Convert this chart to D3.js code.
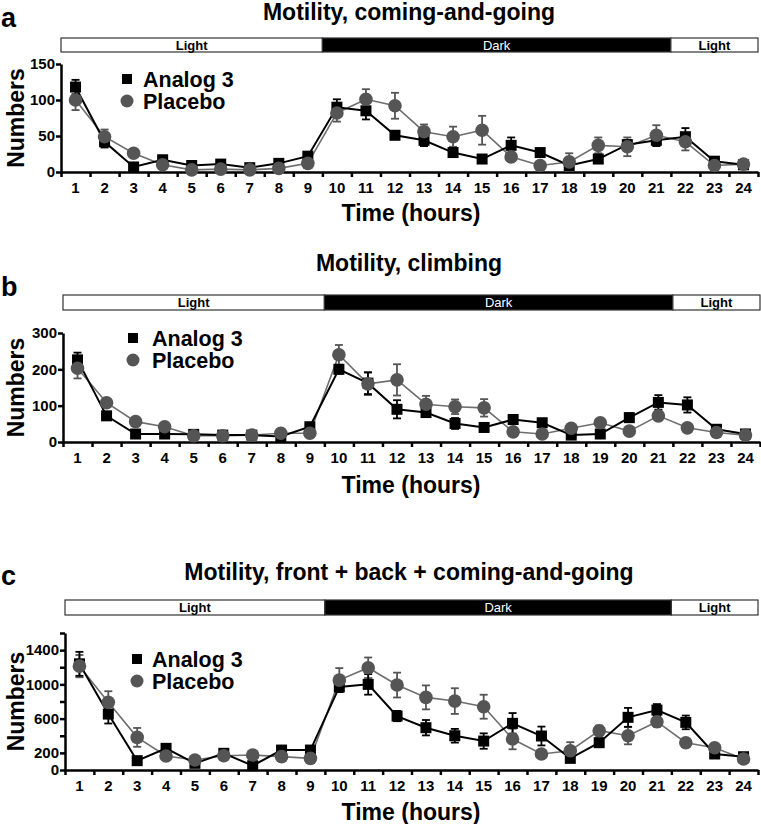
<!DOCTYPE html>
<html>
<head>
<meta charset="utf-8">
<script src="https://cdn.jsdelivr.net/npm/d3@7"></script>
<style>
  html, body { margin: 0; padding: 0; background: #fff; }
  svg { display: block; font-family: "Liberation Sans", Arial, Helvetica, sans-serif; }
</style>
</head>
<body>
<svg id="chart" width="761" height="824"></svg>
<script>
// ---------- data ----------
const hours = d3.range(1, 25);
const hourLabels = hours.map(String);

const titles = ["Motility, coming-and-going", "Motility, climbing", "Motility, front + back + coming-and-going"];
const panelLetters = ["a", "b", "c"];
const seriesNames = ["Analog 3", "Placebo"];
const phaseNames = ["Light", "Dark", "Light"];
const phaseBounds = [0.5, 9.5, 21.5, 24.5];

// Panel a: coming-and-going
const analogA = [118, 42, 7, 17, 9, 11, 6, 12, 22, 90, 85, 51, 44, 27, 18, 37, 27, 9, 18, 38, 44, 49, 15, 10];
const analogAErr = [10, 8, 3, 4, 3, 3, 3, 3, 4, 11, 12, 5, 8, 5, 4, 11, 5, 3, 5, 6, 8, 12, 3, 3];
const placeboA = [100, 49, 26, 10, 3, 4, 3, 5, 12, 82, 101, 92, 56, 49, 58, 21, 9, 14, 37, 35, 51, 42, 9, 11];
const placeboAErr = [14, 10, 4, 3, 2, 2, 2, 2, 3, 12, 14, 18, 10, 14, 20, 5, 3, 12, 11, 13, 14, 12, 3, 3];

// Panel b: climbing
const analogB = [226, 72, 22, 22, 21, 19, 19, 15, 42, 200, 162, 90, 81, 51, 40, 62, 53, 19, 22, 67, 109, 102, 35, 22];
const analogBErr = [20, 8, 4, 4, 3, 3, 3, 3, 8, 12, 30, 25, 12, 15, 8, 10, 8, 4, 4, 12, 20, 21, 5, 4];
const placeboB = [203, 108, 56, 42, 17, 17, 19, 24, 24, 240, 160, 171, 104, 97, 94, 28, 22, 38, 53, 30, 72, 39, 26, 19];
const placeboBErr = [28, 10, 6, 5, 3, 3, 3, 3, 4, 27, 31, 43, 23, 20, 24, 6, 4, 5, 6, 8, 10, 6, 4, 3];

// Panel c: front + back + coming-and-going
const analogC = [1240, 653, 109, 253, 78, 195, 50, 233, 233, 970, 1000, 630, 494, 400, 338, 545, 397, 136, 319, 615, 700, 556, 187, 155];
const analogCErr = [140, 110, 30, 30, 20, 30, 20, 30, 30, 60, 120, 60, 90, 80, 90, 120, 110, 30, 50, 110, 70, 80, 30, 30];
const placeboC = [1213, 790, 381, 163, 117, 167, 175, 156, 136, 1050, 1194, 992, 848, 805, 739, 362, 187, 225, 459, 400, 564, 319, 260, 128];
const placeboCErr = [130, 130, 110, 30, 20, 30, 20, 30, 30, 140, 120, 145, 140, 150, 140, 120, 30, 100, 60, 100, 60, 40, 30, 30];

const yMaxes = [150, 300, 1600];
const yTicksA = [0, 50, 100, 150];
const yTicksB = [0, 100, 200, 300];
const yTicksC = [0, 200, 400, 600, 800, 1000, 1200, 1400, 1600];
const yLabelsC = [0, 200, 600, 1000, 1400];

// ---------- layout ----------
const panels = [
  { letter: panelLetters[0], title: titles[0], yMax: yMaxes[0], ticks: yTicksA, labels: yTicksA,
    analog: analogA, analogErr: analogAErr, placebo: placeboA, placeboErr: placeboAErr,
    left: 61, right: 758, yTop: 64, yBot: 172, barTop: 38, barH: 14, titleY: 20, letterY: 27,
    xLabY: 221, legX: 127, legTextX: 143, legY1: 79, legY2: 101 },
  { letter: panelLetters[1], title: titles[1], yMax: yMaxes[1], ticks: yTicksB, labels: yTicksB,
    analog: analogB, analogErr: analogBErr, placebo: placeboB, placeboErr: placeboBErr,
    left: 63, right: 760, yTop: 333, yBot: 442, barTop: 295, barH: 15, titleY: 271, letterY: 296,
    xLabY: 493, legX: 133, legTextX: 152, legY1: 338, legY2: 360 },
  { letter: panelLetters[2], title: titles[2], yMax: yMaxes[2], ticks: yTicksC, labels: yLabelsC,
    analog: analogC, analogErr: analogCErr, placebo: placeboC, placeboErr: placeboCErr,
    left: 65, right: 758, yTop: 633, yBot: 770, barTop: 600, barH: 15, titleY: 580, letterY: 585,
    xLabY: 820, legX: 137, legTextX: 152, legY1: 659, legY2: 681 }
];

const svg = d3.select("#chart");
const analogColor = "#000";
const placeboColor = "#555";
const placeboLine = "#6e6e6e";

panels.forEach(p => {
  const g = svg.append("g");
  const x = d3.scaleLinear().domain([0.5, 24.5]).range([p.left, p.right]);
  const y = d3.scaleLinear().domain([0, p.yMax]).range([p.yBot, p.yTop]);

  // letter and title
  g.append("text").attr("x", 1).attr("y", p.letterY).text(p.letter)
    .attr("font-size", 27).attr("font-weight", "bold");
  g.append("text").attr("x", 409).attr("y", p.titleY).attr("text-anchor", "middle")
    .text(p.title).attr("font-size", 23).attr("font-weight", "bold");

  // light/dark bar
  const phases = phaseNames.map((n, i) => ({ name: n, a: phaseBounds[i], b: phaseBounds[i + 1] }));
  g.selectAll(".phase").data(phases).enter().append("rect")
    .attr("x", d => x(d.a)).attr("width", d => x(d.b) - x(d.a))
    .attr("y", p.barTop).attr("height", p.barH)
    .attr("fill", d => d.name === "Dark" ? "#000" : "#fff")
    .attr("stroke", "#333").attr("stroke-width", 1.2);
  g.selectAll(".phaseLab").data(phases).enter().append("text")
    .attr("x", d => (x(d.a) + x(d.b)) / 2).attr("y", p.barTop + p.barH / 2 + 4.5)
    .attr("text-anchor", "middle").attr("font-size", 13)
    .attr("font-weight", d => d.name === "Dark" ? "normal" : "bold")
    .attr("fill", d => d.name === "Dark" ? "#fff" : "#000")
    .text(d => d.name);

  // axes
  const xAxis = d3.axisBottom(x).tickValues(d3.range(0.5, 25, 1)).tickFormat("").tickSize(5).tickSizeOuter(0);
  const gx = g.append("g").attr("transform", `translate(0,${p.yBot})`).call(xAxis);
  gx.select(".domain").attr("stroke-width", 2.5);
  gx.selectAll(".tick line").attr("stroke-width", 2.5);
  g.selectAll(".xl").data(hours).enter().append("text")
    .attr("x", d => x(d)).attr("y", p.yBot + 21)
    .attr("text-anchor", "middle").attr("font-size", 15).attr("font-weight", "bold")
    .text((d, i) => hourLabels[i]);

  const yAxis = d3.axisLeft(y).tickValues(p.ticks).tickFormat(d => p.labels.includes(d) ? d : "")
    .tickSize(5).tickSizeOuter(0);
  const gy = g.append("g").attr("transform", `translate(${p.left},0)`).call(yAxis);
  gy.select(".domain").attr("stroke-width", 2.5);
  gy.selectAll(".tick line").attr("stroke-width", 2.5);
  gy.selectAll(".tick text").attr("font-size", 15).attr("font-weight", "bold")
    .attr("font-family", "Liberation Sans, Arial, sans-serif").attr("fill", "#000").attr("x", -6);

  g.append("text").attr("x", 411).attr("y", p.xLabY).attr("text-anchor", "middle")
    .attr("font-size", 23).attr("font-weight", "bold").text("Time (hours)");
  g.append("text")
    .attr("transform", `translate(24,${(p.yTop + p.yBot) / 2}) rotate(-90)`)
    .attr("text-anchor", "middle").attr("font-size", 23).attr("font-weight", "bold").text("Numbers");

  // series
  const series = [
    { vals: p.placebo, err: p.placeboErr, color: placeboColor, line: placeboLine, lw: 1.6, shape: "circle" },
    { vals: p.analog, err: p.analogErr, color: analogColor, line: analogColor, lw: 2, shape: "square" }
  ];
  const line = d3.line().x((d, i) => x(hours[i])).y(d => y(d));
  series.forEach(s => {
    g.append("path").datum(s.vals).attr("d", line).attr("fill", "none")
      .attr("stroke", s.line).attr("stroke-width", s.lw);
  });
  series.forEach(s => {
    const eg = g.append("g").attr("stroke", s.color).attr("stroke-width", 1.8);
    s.vals.forEach((v, i) => {
      const cx = x(hours[i]);
      eg.append("line").attr("x1", cx).attr("x2", cx).attr("y1", y(v - s.err[i])).attr("y2", y(v + s.err[i]));
      eg.append("line").attr("x1", cx - 4).attr("x2", cx + 4).attr("y1", y(v + s.err[i])).attr("y2", y(v + s.err[i]));
      eg.append("line").attr("x1", cx - 4).attr("x2", cx + 4).attr("y1", y(v - s.err[i])).attr("y2", y(v - s.err[i]));
    });
  });
  // markers
  const sP = series[0], sA = series[1];
  g.selectAll(".sq").data(sA.vals).enter().append("rect")
    .attr("x", (d, i) => x(hours[i]) - 5.5).attr("y", d => y(d) - 5.5)
    .attr("width", 11).attr("height", 11).attr("fill", analogColor);
  g.selectAll(".ci").data(sP.vals).enter().append("circle")
    .attr("cx", (d, i) => x(hours[i])).attr("cy", d => y(d)).attr("r", 6.8)
    .attr("fill", placeboColor);

  // legend
  g.append("rect").attr("x", p.legX - 5).attr("y", p.legY1 - 5).attr("width", 10).attr("height", 10).attr("fill", analogColor);
  g.append("circle").attr("cx", p.legX).attr("cy", p.legY2).attr("r", 6.5).attr("fill", placeboColor);
  g.append("text").attr("x", p.legTextX).attr("y", p.legY1 + 8).attr("font-size", 21.5).attr("font-weight", "bold").text(seriesNames[0]);
  g.append("text").attr("x", p.legTextX).attr("y", p.legY2 + 8).attr("font-size", 21.5).attr("font-weight", "bold").text(seriesNames[1]);
});
</script>
</body>
</html>
